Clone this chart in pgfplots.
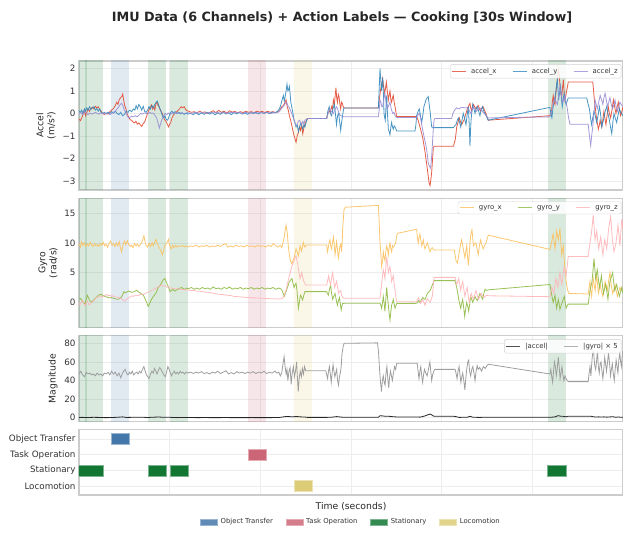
\documentclass[border=0pt]{standalone}
\usepackage{pgfplots}
\pgfplotsset{compat=1.18}
\usepackage{fontspec}
\setmainfont{DejaVu Sans}
\definecolor{cax}{HTML}{E24A33}
\definecolor{cay}{HTML}{348ABD}
\definecolor{caz}{HTML}{988ED5}
\definecolor{cgx}{HTML}{FBC15E}
\definecolor{cgy}{HTML}{8EBA42}
\definecolor{cgz}{HTML}{FFB5B8}
\definecolor{cOT}{HTML}{4477AA}
\definecolor{cTO}{HTML}{CC6677}
\definecolor{cSt}{HTML}{117733}
\definecolor{cLo}{HTML}{DDCC77}
\newcommand{\tsz}{\fontsize{8.8}{10}\selectfont}
\newcommand{\lsz}{\fontsize{9.3}{11}\selectfont}
\newcommand{\gsz}{\fontsize{6.9}{8}\selectfont}
\newcommand{\actspan}[5]{\addplot[fill=#3, fill opacity=0.16, draw=none, forget plot] coordinates {(#1,#4) (#2,#4) (#2,#5) (#1,#5)} -- cycle;}
\newcommand{\allspans}[2]{%
 \actspan{-0.55}{0.45}{cSt}{#1}{#2}
 \actspan{0.35}{1.35}{cSt}{#1}{#2}
 \actspan{1.77}{2.77}{cOT}{#1}{#2}
 \actspan{3.8}{4.8}{cSt}{#1}{#2}
 \actspan{5.03}{6.03}{cSt}{#1}{#2}
 \actspan{9.33}{10.33}{cTO}{#1}{#2}
 \actspan{11.85}{12.85}{cLo}{#1}{#2}
 \actspan{25.85}{26.85}{cSt}{#1}{#2}
}
\newcommand{\actbar}[5]{\addplot[fill=#5, draw=#5!55!white, line width=0.7bp, forget plot] coordinates {(#1,#3) (#2,#3) (#2,#4) (#1,#4)} -- cycle;}
\pgfplotsset{
 base/.style={
  scale only axis, width=544bp, anchor=south west,
  xmin=0, xmax=30, xtick={5,10,15,20,25}, xticklabels={},
  xmajorgrids, ymajorgrids,
  major grid style={draw=black!7, line width=0.7bp},
  axis line style={draw=black!20, line width=1.2bp},
  major tick length=0pt, tick style={draw=none},
  /pgf/number format/assume math mode=true,
  yticklabel style={font=\tsz, text=black!80},
  every axis y label/.style={rotate=90, anchor=center, font=\lsz, text=black!85, align=center},
  legend cell align=left,
  legend style={font=\gsz, text=black!80, draw=black!18, fill=white, fill opacity=0.85, text opacity=1, rounded corners=1.5pt, legend columns=3, anchor=north east, at={(0.997,0.975)}, inner sep=1.5pt, /tikz/every odd column/.append style={column sep=2.5bp}, /tikz/every even column/.append style={column sep=14bp}},
  legend image code/.code={\draw[#1, line width=0.9bp, draw opacity=0.8] (0bp,0bp) -- (14bp,0bp);},
 }
}
\begin{document}
\begin{tikzpicture}
\path[use as bounding box] (0bp,0bp) rectangle (623bp,533bp);
\node[font=\fontsize{12.8}{15}\selectfont\bfseries, text=black!85] at (342bp,515bp) {IMU Data (6 Channels) + Action Labels — Cooking [30s Window]};
% ---------------- Accel ----------------
\begin{axis}[base, at={(79bp,343bp)}, height=129bp, ymin=-3.4, ymax=2.33,
  ytick={-3,-2,-1,0,1,2}, yticklabels={−3,−2,−1,0,1,2},
  ylabel={Accel\\(m/s²)}, ylabel style={at={(axis description cs:-0.0607,0.5)}}]
\allspans{-4}{3}
\addplot[cax, line width=0.8bp, draw opacity=0.9] coordinates {(0.0,-0.25) (0.08,-0.32) (0.15,-0.2) (0.22,-0.05) (0.3,0.15) (0.36,-0.1) (0.43,0.05) (0.5,0.2) (0.58,0.1) (0.66,0.22) (0.74,0.28) (0.82,0.2) (0.9,0.32) (0.98,0.25) (1.06,0.3) (1.14,0.18) (1.22,0.1) (1.3,0.0) (1.4,-0.05) (1.5,0.02) (1.6,-0.03) (1.7,0.08) (1.8,0.15) (1.9,0.22) (2.0,0.35) (2.08,0.5) (2.15,0.4) (2.22,0.62) (2.3,0.7) (2.36,0.75) (2.41,0.86) (2.46,0.6) (2.52,0.35) (2.59,0.2) (2.66,-0.05) (2.74,-0.15) (2.82,-0.28) (2.9,-0.3) (2.98,-0.38) (3.06,-0.42) (3.14,-0.35) (3.22,-0.48) (3.3,-0.42) (3.38,-0.5) (3.46,-0.58) (3.54,-0.45) (3.62,-0.38) (3.7,-0.2) (3.78,0.0) (3.86,0.15) (3.94,0.3) (4.0,0.38) (4.06,0.2) (4.12,0.3) (4.18,0.15) (4.24,0.42) (4.3,0.5) (4.36,0.35) (4.42,0.3) (4.48,0.15) (4.56,0.05) (4.64,-0.1) (4.72,-0.28) (4.8,-0.35) (4.88,-0.5) (4.94,-0.6) (5.0,-0.48) (5.06,-0.4) (5.12,-0.22) (5.2,-0.08) (5.3,0.02) (5.4,0.08) (5.48,0.15) (5.56,0.22) (5.64,0.3) (5.72,0.25) (5.8,0.3) (5.88,0.18) (5.96,0.12) (6.05,0.1) (6.2,0.05) (6.35,0.08) (6.5,0.02) (6.65,0.1) (6.8,0.04) (6.95,0.07) (7.1,0.0) (7.25,0.06) (7.4,0.12) (7.55,0.03) (7.7,0.14) (7.85,0.05) (8.0,0.1) (8.15,0.02) (8.3,0.12) (8.45,0.06) (8.6,0.09) (8.75,0.03) (8.9,0.08) (9.05,0.04) (9.2,0.1) (9.35,0.05) (9.5,0.08) (9.65,0.03) (9.8,0.1) (9.95,0.06) (10.1,0.09) (10.25,0.04) (10.4,0.1) (10.55,0.05) (10.7,0.08) (10.85,0.03) (11.0,0.1) (11.08,0.15) (11.18,0.3) (11.27,0.35) (11.36,0.5) (11.42,0.6) (11.48,0.3) (11.54,0.15) (11.6,-0.1) (11.67,-0.3) (11.74,-0.55) (11.82,-0.85) (11.9,-1.1) (11.97,-1.28) (12.03,-1.0) (12.1,-0.85) (12.16,-0.6) (12.22,-0.75) (12.28,-0.5) (12.34,-0.9) (12.4,-0.65) (12.46,-0.45) (12.52,-0.35) (12.6,-0.22) (13.66,-0.22) (13.72,0.0) (13.8,0.12) (13.86,0.05) (13.93,0.3) (13.98,0.2) (14.03,0.6) (14.08,0.4) (14.13,0.8) (14.17,1.15) (14.21,0.7) (14.25,0.5) (14.3,0.85) (14.34,0.75) (14.39,0.4) (14.43,0.2) (14.48,0.5) (14.52,0.45) (14.57,0.3) (14.61,0.24) (16.5,0.24) (16.56,0.6) (16.62,1.0) (16.69,1.3) (16.74,1.55) (16.8,1.2) (16.85,0.9) (16.9,1.1) (16.95,1.4) (17.0,1.0) (17.06,0.6) (17.1,0.8) (17.15,1.0) (17.2,0.6) (17.24,0.5) (17.29,0.7) (17.33,0.8) (17.38,0.5) (17.43,0.3) (17.48,0.05) (17.52,-0.14) (18.62,-0.14) (18.7,-0.3) (18.77,-0.5) (18.84,-0.7) (18.9,-0.9) (18.96,-1.1) (19.02,-1.4) (19.08,-1.7) (19.13,-2.0) (19.2,-2.4) (19.26,-2.8) (19.31,-3.1) (19.36,-3.2) (19.41,-2.9) (19.45,-2.6) (19.5,-2.0) (19.54,-1.5) (19.6,-1.46) (20.65,-1.46) (20.7,-1.3) (20.74,-1.2) (20.79,-0.9) (20.83,-0.6) (20.9,-0.4) (20.97,-0.2) (21.03,-0.35) (21.1,-0.5) (21.16,-0.4) (21.23,-0.3) (21.3,-0.1) (21.38,0.1) (21.43,0.25) (21.47,0.3) (21.52,0.4) (21.56,0.45) (21.6,0.25) (21.65,0.1) (21.7,0.3) (21.75,0.4) (21.82,0.3) (21.89,0.2) (21.95,0.3) (22.02,0.35) (22.08,0.2) (22.15,0.1) (22.22,0.25) (22.29,0.3) (22.36,0.15) (22.44,0.0) (22.5,-0.15) (22.57,-0.3) (25.97,-0.1) (26.02,0.0) (26.06,0.1) (26.1,0.5) (26.15,0.8) (26.2,0.5) (26.25,0.4) (26.3,0.9) (26.34,1.2) (26.39,1.6) (26.43,2.0) (26.48,1.7) (26.52,1.3) (26.57,0.9) (26.62,0.7) (26.66,1.1) (26.71,1.5) (26.75,1.0) (26.8,0.6) (26.85,0.8) (26.89,1.0) (26.94,1.2) (26.98,1.4) (28.33,1.4) (28.38,1.0) (28.42,0.6) (28.48,0.2) (28.55,-0.3) (28.6,-0.5) (28.64,-0.7) (28.7,-0.5) (28.74,-0.3) (28.78,-0.45) (28.83,-0.6) (28.9,-0.2) (28.95,0.1) (29.0,-0.2) (29.06,-0.5) (29.12,-0.1) (29.19,0.3) (29.25,0.0) (29.32,-0.2) (29.4,0.2) (29.47,0.6) (29.54,0.3) (29.61,0.0) (29.68,0.3) (29.74,0.5) (29.8,0.2) (29.87,-0.1) (29.94,0.1) (30.0,0.3)};
\addlegendentry{accel\_x}
\addplot[cay, line width=0.8bp, draw opacity=0.9] coordinates {(0.0,0.1) (0.08,0.05) (0.15,0.15) (0.22,0.0) (0.3,0.2) (0.36,0.1) (0.43,0.25) (0.5,0.15) (0.58,0.3) (0.66,0.18) (0.74,0.25) (0.82,0.3) (0.9,0.15) (0.98,0.22) (1.06,0.1) (1.14,0.2) (1.22,0.05) (1.3,0.0) (1.4,0.05) (1.5,-0.02) (1.6,0.05) (1.7,0.0) (1.8,0.08) (1.9,0.02) (2.0,0.1) (2.1,0.0) (2.2,-0.05) (2.3,0.05) (2.4,-0.1) (2.5,-0.05) (2.6,0.1) (2.7,0.05) (2.8,0.15) (2.9,0.08) (3.0,0.2) (3.08,0.15) (3.15,0.35) (3.22,0.2) (3.3,0.4) (3.38,0.3) (3.46,0.15) (3.54,0.32) (3.62,0.1) (3.7,0.05) (3.78,0.15) (3.86,0.3) (3.94,0.2) (4.02,0.35) (4.1,0.25) (4.18,0.4) (4.26,0.5) (4.32,0.55) (4.38,0.4) (4.44,0.25) (4.5,0.15) (4.56,0.0) (4.62,-0.15) (4.68,-0.2) (4.74,-0.1) (4.8,-0.25) (4.88,-0.3) (4.94,-0.2) (5.0,-0.05) (5.06,0.05) (5.12,0.1) (5.2,0.02) (5.3,0.08) (5.4,0.0) (5.5,0.05) (5.6,-0.02) (5.7,0.03) (5.8,-0.04) (5.9,0.02) (6.0,-0.03) (6.15,0.0) (6.3,-0.05) (6.45,0.03) (6.6,-0.06) (6.75,0.02) (6.9,-0.04) (7.05,0.05) (7.2,-0.03) (7.35,0.04) (7.5,-0.06) (7.65,0.02) (7.8,-0.04) (7.95,0.06) (8.1,-0.02) (8.25,0.03) (8.4,-0.05) (8.55,0.04) (8.7,-0.02) (8.85,0.05) (9.0,-0.03) (9.15,0.02) (9.3,-0.04) (9.45,0.03) (9.6,0.0) (9.75,0.05) (9.9,-0.02) (10.05,0.04) (10.2,0.0) (10.35,0.05) (10.5,-0.01) (10.65,0.06) (10.8,0.02) (10.95,0.1) (11.05,0.2) (11.12,0.35) (11.2,0.6) (11.27,0.8) (11.32,0.55) (11.36,0.7) (11.42,1.0) (11.47,1.3) (11.52,1.0) (11.56,1.05) (11.6,1.2) (11.64,0.9) (11.68,0.5) (11.73,0.3) (11.8,0.0) (11.86,-0.3) (11.91,-0.4) (11.97,-0.6) (12.03,-0.5) (12.1,-0.8) (12.16,-0.6) (12.22,-0.45) (12.28,-0.55) (12.34,-0.7) (12.4,-0.5) (12.46,-0.6) (12.52,-0.4) (12.6,-0.22) (13.66,-0.22) (13.72,0.1) (13.8,0.3) (13.86,0.0) (13.93,-0.1) (14.0,0.2) (14.08,0.4) (14.14,0.0) (14.2,-0.5) (14.26,-0.1) (14.32,0.0) (14.38,-0.4) (14.43,-0.75) (14.48,-0.4) (14.52,-0.2) (14.57,0.1) (14.61,0.24) (16.51,0.24) (16.56,1.2) (16.6,2.0) (16.64,1.5) (16.68,1.0) (16.72,1.3) (16.75,1.6) (16.79,0.8) (16.82,0.0) (16.86,-0.2) (16.89,-0.3) (16.93,0.3) (16.97,0.8) (17.01,0.0) (17.06,-0.7) (17.1,-0.8) (17.15,-0.95) (17.2,-0.6) (17.24,-0.4) (17.29,-0.6) (17.33,-0.7) (17.38,-0.55) (17.43,-0.6) (17.48,-0.7) (17.52,-0.78) (18.53,-0.78) (18.58,-0.5) (18.62,-0.1) (18.7,0.1) (18.77,0.2) (18.83,-0.1) (18.9,-0.4) (18.96,-0.1) (19.02,0.3) (19.08,0.45) (19.13,0.6) (19.2,0.7) (19.26,0.75) (19.31,0.4) (19.36,0.1) (19.41,-0.3) (19.45,-0.6) (19.54,-0.63) (20.65,-0.63) (20.72,-0.55) (20.79,-0.5) (20.86,-0.3) (20.92,-0.2) (20.99,-0.4) (21.05,-0.6) (21.12,-0.3) (21.19,0.0) (21.26,-0.2) (21.34,-0.5) (21.4,-0.1) (21.47,0.3) (21.52,-0.5) (21.56,-1.45) (21.59,-0.8) (21.62,-0.3) (21.67,0.1) (21.71,0.4) (21.78,0.2) (21.84,0.0) (21.9,0.2) (21.97,0.3) (22.04,0.1) (22.11,-0.1) (22.18,0.15) (22.26,0.3) (22.32,0.1) (22.39,0.0) (22.48,-0.15) (22.57,-0.3) (25.97,0.27) (26.02,0.0) (26.08,-0.2) (26.13,0.2) (26.19,0.5) (26.24,0.7) (26.3,1.0) (26.34,1.3) (26.38,1.5) (26.42,1.0) (26.45,0.6) (26.5,0.9) (26.56,1.2) (26.6,0.7) (26.65,0.3) (26.7,0.6) (26.75,0.9) (26.8,0.6) (26.86,0.4) (26.92,0.55) (26.98,0.69) (28.0,0.69) (28.08,0.4) (28.15,0.2) (28.21,-0.2) (28.27,-0.5) (28.33,-0.2) (28.4,0.1) (28.47,-0.1) (28.55,-0.4) (28.62,-0.1) (28.7,0.3) (28.76,0.0) (28.83,-0.6) (28.89,-0.4) (28.95,-0.2) (29.02,0.1) (29.1,0.3) (29.17,0.0) (29.25,-0.3) (29.31,-0.6) (29.38,-0.9) (29.44,-0.4) (29.5,0.0) (29.57,-0.2) (29.65,-0.4) (29.72,-0.1) (29.8,0.2) (29.9,0.0) (30.0,-0.1)};
\addlegendentry{accel\_y}
\addplot[caz, line width=0.8bp, draw opacity=0.9] coordinates {(0.0,0.0) (0.1,0.05) (0.2,-0.05) (0.3,0.1) (0.4,0.0) (0.5,-0.05) (0.6,0.02) (0.7,-0.03) (0.8,0.0) (0.9,0.05) (1.0,0.0) (1.1,-0.03) (1.2,0.02) (1.3,0.0) (1.4,-0.02) (1.5,0.02) (1.6,0.0) (1.7,-0.05) (1.8,0.0) (1.9,0.05) (2.0,0.1) (2.1,0.2) (2.2,0.3) (2.28,0.4) (2.35,0.45) (2.42,0.35) (2.5,0.15) (2.58,0.05) (2.66,-0.1) (2.74,-0.2) (2.82,-0.18) (2.9,-0.12) (3.0,-0.15) (3.1,-0.1) (3.2,-0.15) (3.3,-0.08) (3.4,0.0) (3.5,-0.02) (3.6,0.02) (3.7,0.0) (3.8,-0.02) (3.9,0.05) (4.0,0.0) (4.1,0.02) (4.2,-0.1) (4.28,-0.2) (4.35,-0.4) (4.43,-0.65) (4.5,-0.45) (4.56,-0.3) (4.64,-0.15) (4.74,0.0) (4.84,-0.05) (4.94,0.02) (5.04,-0.04) (5.14,0.03) (5.24,-0.02) (5.34,0.04) (5.44,0.0) (5.6,0.03) (5.8,-0.01) (6.0,0.04) (6.2,0.0) (6.4,0.05) (6.6,0.01) (6.8,0.04) (7.0,0.0) (7.2,0.05) (7.4,0.02) (7.6,0.06) (7.8,0.01) (8.0,0.04) (8.2,0.0) (8.4,0.05) (8.6,0.02) (8.8,0.04) (9.0,0.0) (9.2,0.05) (9.4,0.01) (9.6,0.04) (9.8,0.0) (10.0,0.05) (10.2,0.02) (10.4,0.04) (10.6,0.0) (10.8,0.05) (11.0,0.05) (11.1,0.15) (11.2,0.25) (11.3,0.35) (11.38,0.45) (11.45,0.5) (11.52,0.35) (11.6,0.25) (11.68,0.1) (11.75,-0.05) (11.82,-0.2) (11.9,-0.4) (11.97,-0.55) (12.03,-0.5) (12.1,-0.35) (12.16,-0.3) (12.22,-0.4) (12.28,-0.5) (12.34,-0.35) (12.4,-0.45) (12.46,-0.3) (12.55,-0.25) (12.6,-0.22) (13.66,-0.22) (13.75,0.05) (13.84,0.2) (13.9,0.1) (13.96,0.05) (14.03,0.0) (14.1,0.15) (14.16,0.25) (14.2,0.3) (14.26,0.2) (14.32,0.05) (14.38,-0.05) (14.43,-0.1) (14.5,-0.12) (14.58,-0.15) (16.51,-0.15) (16.56,0.2) (16.6,0.6) (16.65,0.5) (16.7,0.3) (16.75,0.3) (16.8,0.6) (16.87,0.9) (16.93,0.5) (17.0,0.2) (17.07,0.35) (17.15,0.5) (17.22,0.2) (17.3,0.0) (17.37,0.05) (17.43,-0.1) (17.52,-0.18) (18.62,-0.18) (18.7,-0.05) (18.77,0.0) (18.84,-0.2) (18.9,-0.5) (18.96,-0.75) (19.02,-1.0) (19.1,-1.3) (19.17,-1.6) (19.22,-1.9) (19.26,-2.2) (19.33,-2.35) (19.39,-2.43) (19.44,-2.0) (19.48,-1.5) (19.53,-0.8) (19.58,-0.3) (19.63,-0.22) (20.55,-0.22) (20.62,0.0) (20.68,0.1) (20.76,0.2) (20.83,0.25) (20.9,0.22) (20.97,0.2) (21.04,0.26) (21.1,0.25) (21.2,0.27) (21.3,0.24) (21.4,0.26) (21.47,0.2) (21.54,0.1) (21.6,0.0) (21.68,0.15) (21.75,0.3) (21.84,0.2) (21.93,0.1) (22.02,0.2) (22.11,0.25) (22.2,0.15) (22.29,0.05) (22.4,-0.05) (22.57,-0.2) (25.97,-0.15) (26.03,0.0) (26.1,0.2) (26.17,0.5) (26.25,0.7) (26.31,0.5) (26.38,0.4) (26.45,0.8) (26.52,1.2) (26.58,0.9) (26.67,0.5) (26.73,0.6) (26.8,0.8) (26.86,0.5) (26.93,0.2) (27.0,-0.2) (27.08,-0.48) (28.08,-0.48) (28.15,-1.0) (28.22,-1.43) (28.27,-1.0) (28.33,-0.6) (28.4,0.0) (28.46,0.6) (28.52,0.4) (28.58,0.2) (28.66,0.5) (28.74,0.8) (28.82,0.6) (28.89,0.4) (28.95,0.7) (29.01,0.9) (29.08,0.6) (29.14,0.3) (29.21,0.5) (29.28,0.7) (29.35,0.4) (29.43,0.2) (29.5,0.4) (29.56,0.6) (29.62,0.3) (29.69,0.1) (29.76,0.3) (29.83,0.5) (29.9,0.4) (30.0,0.3)};
\addlegendentry{accel\_z}
\end{axis}
% ---------------- Gyro ----------------
\begin{axis}[base, at={(79bp,205.7bp)}, height=129bp, ymin=-4.2, ymax=17.5,
  ytick={0,5,10,15},
  ylabel={Gyro\\(rad/s)}, ylabel style={at={(axis description cs:-0.057,0.5)}}]
\allspans{-5}{18}
\addplot[cgx, line width=0.8bp, draw opacity=0.9] coordinates {(0.0,9.9) (0.08,9.3) (0.15,10.2) (0.22,9.6) (0.3,10.0) (0.38,9.4) (0.46,9.8) (0.54,9.5) (0.62,10.1) (0.7,9.6) (0.78,9.4) (0.86,9.9) (0.94,9.5) (1.02,9.7) (1.1,9.4) (1.18,9.9) (1.26,9.6) (1.34,10.1) (1.42,9.5) (1.5,9.8) (1.58,9.3) (1.66,9.9) (1.74,10.3) (1.82,9.6) (1.9,9.9) (1.98,9.4) (2.06,10.0) (2.14,9.5) (2.22,10.2) (2.28,9.2) (2.35,8.5) (2.42,9.6) (2.5,10.3) (2.58,9.7) (2.66,10.4) (2.74,9.8) (2.82,9.4) (2.9,9.6) (2.98,9.2) (3.06,9.9) (3.14,9.5) (3.22,9.8) (3.3,9.4) (3.38,9.7) (3.46,10.0) (3.52,10.6) (3.58,11.2) (3.64,10.2) (3.7,9.6) (3.78,9.3) (3.86,9.9) (3.94,9.4) (4.02,10.0) (4.1,9.5) (4.18,10.2) (4.25,10.6) (4.3,10.0) (4.38,9.4) (4.46,9.0) (4.54,8.5) (4.6,8.0) (4.66,8.6) (4.72,9.5) (4.8,9.8) (4.88,10.2) (4.93,10.6) (4.98,9.8) (5.04,9.2) (5.1,9.0) (5.16,9.6) (5.24,9.2) (5.32,9.6) (5.4,9.3) (5.5,9.5) (5.6,9.4) (5.7,9.6) (5.8,9.3) (5.9,9.5) (6.0,9.3) (6.15,9.5) (6.3,9.4) (6.45,9.6) (6.6,9.3) (6.75,9.5) (6.9,9.4) (7.05,9.6) (7.2,9.3) (7.35,9.5) (7.5,9.4) (7.65,9.6) (7.8,9.4) (7.95,9.7) (8.1,9.9) (8.2,9.3) (8.35,9.5) (8.5,9.3) (8.65,9.6) (8.8,9.4) (8.95,9.5) (9.1,9.3) (9.25,9.6) (9.4,9.4) (9.55,9.5) (9.7,9.3) (9.85,9.6) (10.0,9.4) (10.15,9.5) (10.3,9.3) (10.45,9.6) (10.6,9.4) (10.72,9.9) (10.85,9.5) (10.98,9.3) (11.1,9.6) (11.18,9.2) (11.25,10.0) (11.32,11.0) (11.38,12.3) (11.42,13.0) (11.46,12.2) (11.49,11.5) (11.54,9.5) (11.6,8.0) (11.66,7.0) (11.73,6.5) (11.8,7.0) (11.86,7.5) (11.92,8.3) (11.97,9.0) (12.03,8.5) (12.1,7.8) (12.15,8.8) (12.19,9.5) (12.24,9.0) (12.28,8.6) (12.33,9.5) (12.37,10.1) (12.42,9.5) (12.46,9.3) (12.52,9.66) (13.66,9.66) (13.7,8.5) (13.75,9.2) (13.8,10.2) (13.84,10.5) (13.88,9.5) (13.93,9.0) (13.98,10.0) (14.03,11.0) (14.08,9.5) (14.12,8.0) (14.16,9.0) (14.2,10.2) (14.25,9.0) (14.3,7.5) (14.35,8.5) (14.39,9.5) (14.44,9.8) (14.48,8.5) (14.52,10.5) (14.54,12.5) (14.58,14.0) (14.61,15.5) (14.65,15.8) (14.69,16.0) (16.51,16.3) (16.56,13.0) (16.6,10.0) (16.65,8.0) (16.69,6.0) (16.74,7.0) (16.78,8.5) (16.83,7.5) (16.87,7.0) (16.92,8.5) (16.97,9.5) (17.01,9.0) (17.06,8.0) (17.1,9.2) (17.15,10.0) (17.2,9.0) (17.24,8.5) (17.29,9.5) (17.33,9.3) (17.4,9.6) (17.46,10.0) (17.5,10.8) (17.55,11.6) (18.62,12.3) (18.66,11.0) (18.71,10.0) (18.76,11.0) (18.8,11.5) (18.85,10.5) (18.9,9.5) (18.95,10.0) (18.99,10.5) (19.03,9.6) (19.08,9.0) (19.14,9.5) (19.21,10.0) (19.28,9.3) (19.36,8.5) (19.42,9.0) (19.48,9.2) (19.54,8.9) (19.6,8.8) (20.7,8.8) (20.75,7.8) (20.79,7.0) (20.86,6.6) (20.92,7.5) (20.97,8.5) (21.03,9.5) (21.1,10.5) (21.15,9.8) (21.19,9.0) (21.24,8.2) (21.28,7.5) (21.33,8.5) (21.38,9.5) (21.42,8.0) (21.47,6.2) (21.52,8.0) (21.56,10.0) (21.6,11.2) (21.64,11.8) (21.67,12.2) (21.71,11.0) (21.75,9.5) (21.82,9.8) (21.89,10.0) (21.95,9.0) (22.02,8.0) (22.08,9.5) (22.15,10.5) (22.22,9.6) (22.29,9.0) (22.36,9.5) (22.44,10.0) (22.5,10.6) (22.57,11.3) (25.97,8.9) (26.02,9.5) (26.06,10.0) (26.1,10.8) (26.15,11.5) (26.2,10.2) (26.25,9.0) (26.3,10.5) (26.34,12.0) (26.39,11.2) (26.43,10.5) (26.48,11.5) (26.52,12.5) (26.57,10.2) (26.62,8.0) (26.66,8.8) (26.71,9.5) (26.75,7.5) (26.8,5.5) (26.85,4.0) (26.89,3.0) (26.95,2.0) (27.02,1.5) (28.08,1.4) (28.13,2.5) (28.18,3.5) (28.22,2.0) (28.27,1.0) (28.31,2.5) (28.36,4.0) (28.41,3.0) (28.46,2.0) (28.5,3.2) (28.55,4.5) (28.6,3.0) (28.64,1.5) (28.69,2.2) (28.74,3.0) (28.8,2.0) (28.89,1.0) (28.95,2.2) (29.01,3.5) (29.07,2.8) (29.14,2.0) (29.2,3.5) (29.28,5.0) (29.35,3.0) (29.43,1.5) (29.5,2.2) (29.56,3.0) (29.62,2.0) (29.69,1.0) (29.76,1.8) (29.83,2.5) (29.9,2.0) (30.0,1.8)};
\addlegendentry{gyro\_x}
\addplot[cgy, line width=0.8bp, draw opacity=0.9] coordinates {(0.0,0.7) (0.05,0.7) (0.12,0.5) (0.2,0.2) (0.27,-0.1) (0.33,-0.3) (0.4,0.5) (0.46,1.2) (0.52,0.8) (0.57,0.4) (0.63,0.2) (0.7,0.0) (0.78,0.3) (0.88,0.6) (0.97,0.9) (1.07,1.2) (1.16,1.3) (1.25,1.3) (1.34,1.1) (1.43,1.0) (1.52,0.9) (1.62,0.8) (1.72,0.75) (1.8,0.8) (1.89,0.7) (1.98,0.6) (2.08,0.55) (2.17,0.5) (2.26,0.7) (2.35,0.9) (2.42,1.4) (2.48,1.8) (2.55,1.6) (2.63,1.7) (2.72,1.9) (2.81,1.8) (2.9,1.7) (3.0,1.75) (3.09,1.9) (3.18,2.0) (3.27,1.8) (3.36,1.6) (3.45,1.4) (3.55,1.2) (3.64,0.6) (3.73,0.0) (3.78,-0.4) (3.82,-0.7) (3.88,-0.3) (3.95,0.2) (4.02,0.6) (4.1,1.0) (4.18,1.3) (4.25,1.6) (4.31,2.0) (4.37,2.5) (4.44,2.7) (4.5,3.0) (4.57,3.4) (4.65,3.8) (4.7,3.9) (4.74,4.0) (4.79,3.6) (4.83,3.3) (4.88,2.9) (4.93,2.6) (4.98,2.2) (5.02,1.8) (5.1,2.0) (5.17,2.2) (5.23,2.0) (5.29,1.9) (5.38,2.1) (5.48,2.2) (5.57,2.4) (5.66,2.5) (5.75,2.3) (5.85,2.2) (5.95,2.4) (6.05,2.3) (6.2,2.5) (6.35,2.2) (6.5,2.4) (6.65,2.2) (6.8,2.5) (6.95,2.3) (7.1,2.4) (7.25,2.2) (7.4,2.6) (7.55,2.3) (7.7,2.4) (7.85,2.2) (8.0,2.5) (8.15,2.3) (8.3,2.6) (8.45,2.2) (8.6,2.4) (8.75,2.3) (8.9,2.5) (9.05,2.2) (9.2,2.4) (9.35,2.3) (9.5,2.5) (9.65,2.2) (9.8,2.4) (9.95,2.3) (10.1,2.5) (10.25,2.2) (10.4,2.4) (10.55,2.3) (10.7,2.5) (10.85,2.2) (11.0,2.4) (11.12,2.3) (11.2,2.0) (11.27,1.4) (11.32,1.0) (11.38,1.5) (11.44,2.0) (11.49,2.5) (11.55,3.0) (11.6,3.5) (11.64,3.6) (11.7,3.9) (11.75,4.0) (11.8,3.2) (11.86,2.5) (11.92,3.0) (11.97,3.2) (12.02,2.0) (12.06,0.5) (12.1,-1.0) (12.15,0.0) (12.19,0.8) (12.22,1.2) (12.28,0.8) (12.33,0.4) (12.4,1.2) (12.46,1.8) (13.66,1.8) (13.7,1.5) (13.75,1.2) (13.8,2.0) (13.85,2.6) (13.88,2.8) (13.93,1.5) (13.99,0.5) (14.05,1.0) (14.12,1.5) (14.18,0.5) (14.25,-0.5) (14.3,0.2) (14.36,0.8) (14.41,-0.2) (14.46,-1.3) (14.5,-0.6) (14.54,-0.2) (14.63,-0.17) (16.6,-0.17) (16.65,-0.5) (16.69,-1.0) (16.74,0.0) (16.78,1.0) (16.83,-0.2) (16.87,-1.5) (16.92,0.5) (16.97,2.5) (17.01,1.0) (17.06,-0.5) (17.1,-1.8) (17.15,-3.0) (17.2,-1.5) (17.24,-0.5) (17.29,0.0) (17.33,0.5) (17.38,-0.3) (17.43,-1.0) (17.48,-0.5) (17.52,-0.2) (18.62,-0.17) (18.67,0.0) (18.71,0.3) (18.76,0.1) (18.8,0.0) (18.88,0.4) (18.96,0.8) (19.02,0.6) (19.08,0.5) (19.15,1.0) (19.21,1.5) (19.28,1.7) (19.36,2.0) (19.42,2.4) (19.47,2.8) (19.52,3.2) (19.58,3.65) (20.74,3.65) (20.79,3.0) (20.83,2.5) (20.89,1.5) (20.94,0.5) (21.0,-0.3) (21.05,-1.0) (21.1,-0.2) (21.16,0.5) (21.22,-1.0) (21.27,-2.4) (21.32,-1.2) (21.38,0.0) (21.44,-0.7) (21.49,-1.5) (21.55,-0.2) (21.6,1.0) (21.66,0.5) (21.71,0.0) (21.78,0.5) (21.84,1.0) (21.9,0.6) (21.97,0.3) (22.04,0.9) (22.11,1.5) (22.18,1.0) (22.26,0.5) (22.32,1.4) (22.39,2.2) (22.48,2.0) (22.57,2.1) (25.97,3.0) (26.02,2.2) (26.06,1.5) (26.1,0.7) (26.15,0.0) (26.2,0.6) (26.25,1.2) (26.3,0.0) (26.34,-1.0) (26.39,-0.2) (26.43,0.5) (26.48,-0.3) (26.52,-1.2) (26.58,-0.6) (26.65,0.0) (26.7,0.5) (26.76,1.0) (26.81,0.0) (26.86,-1.0) (26.92,-0.6) (26.98,-0.3) (28.08,-0.3) (28.13,0.8) (28.18,2.0) (28.24,2.8) (28.29,3.5) (28.35,5.5) (28.4,7.4) (28.45,5.5) (28.49,4.0) (28.54,4.8) (28.58,5.5) (28.64,4.0) (28.7,2.5) (28.76,3.5) (28.81,4.5) (28.86,3.0) (28.92,1.5) (28.98,2.2) (29.05,3.0) (29.11,1.8) (29.17,0.5) (29.22,2.0) (29.28,3.5) (29.35,4.2) (29.43,5.0) (29.48,3.5) (29.54,2.0) (29.6,2.5) (29.65,3.0) (29.72,2.0) (29.8,1.0) (29.87,1.8) (29.93,2.5) (30.0,1.5)};
\addlegendentry{gyro\_y}
\addplot[cgz, line width=0.8bp, draw opacity=0.9] coordinates {(0.0,-0.2) (0.06,-0.4) (0.13,0.1) (0.2,0.3) (0.26,-0.2) (0.33,-0.6) (0.4,-0.1) (0.46,0.2) (0.53,-0.3) (0.6,-0.4) (0.68,-0.1) (0.75,0.1) (0.84,0.4) (0.92,0.7) (0.99,0.8) (1.08,1.0) (1.16,1.1) (1.25,0.9) (1.34,1.0) (1.43,1.2) (1.53,1.3) (1.62,1.1) (1.71,1.2) (1.8,1.0) (1.89,1.1) (1.98,0.9) (2.08,0.9) (2.17,0.8) (2.26,0.7) (2.35,0.6) (2.44,0.4) (2.54,0.2) (2.63,0.5) (2.72,0.7) (2.81,0.9) (2.9,1.1) (3.0,1.0) (3.09,1.2) (3.18,1.2) (3.27,1.1) (3.36,1.3) (3.46,1.4) (3.55,1.3) (3.64,1.5) (3.73,1.6) (3.82,1.7) (3.91,1.8) (4.0,2.0) (4.1,2.1) (4.19,2.3) (4.28,2.4) (4.37,2.6) (4.47,2.8) (4.56,2.9) (4.65,2.7) (4.74,2.8) (4.83,2.6) (4.93,2.5) (5.02,2.4) (5.11,2.4) (5.25,2.3) (5.4,2.3) (5.57,2.2) (5.75,2.15) (5.95,2.1) (6.15,2.0) (6.35,2.0) (6.55,1.85) (6.75,1.85) (6.95,1.7) (7.15,1.7) (7.35,1.55) (7.55,1.45) (7.75,1.35) (7.95,1.3) (8.15,1.2) (8.35,1.15) (8.55,1.0) (8.75,0.95) (8.95,0.9) (9.15,0.85) (9.35,0.8) (9.55,0.75) (9.75,0.75) (9.95,0.7) (10.15,0.7) (10.35,0.65) (10.55,0.6) (10.75,0.6) (10.95,0.55) (11.1,0.6) (11.18,0.6) (11.27,0.9) (11.36,1.5) (11.43,2.2) (11.49,3.0) (11.55,3.8) (11.6,4.5) (11.67,5.2) (11.73,6.0) (11.8,6.5) (11.86,7.0) (11.92,7.5) (11.97,7.8) (12.02,7.0) (12.06,6.5) (12.12,5.2) (12.19,4.0) (12.24,4.5) (12.28,5.0) (12.34,4.2) (12.4,3.5) (12.45,3.2) (12.5,2.9) (13.66,2.9) (13.72,3.8) (13.77,4.5) (13.82,3.5) (13.88,3.0) (13.93,4.2) (13.99,5.0) (14.05,3.5) (14.1,2.5) (14.15,3.0) (14.2,3.5) (14.26,2.5) (14.32,1.5) (14.37,1.8) (14.43,2.0) (14.48,1.2) (14.54,0.8) (14.63,0.67) (16.6,0.67) (16.65,2.0) (16.69,3.0) (16.74,4.5) (16.78,5.5) (16.83,4.8) (16.87,4.0) (16.92,6.0) (16.97,7.7) (17.01,6.5) (17.06,5.0) (17.1,5.5) (17.15,6.0) (17.2,4.8) (17.24,3.5) (17.29,4.0) (17.33,4.5) (17.38,3.2) (17.43,2.0) (17.48,0.8) (17.52,0.1) (18.62,0.1) (18.67,0.5) (18.73,0.8) (18.78,0.3) (18.84,-0.2) (18.9,0.2) (18.96,0.5) (19.02,0.0) (19.08,-0.5) (19.14,0.1) (19.21,0.6) (19.28,0.3) (19.36,0.0) (19.42,0.5) (19.48,1.0) (19.53,2.5) (19.58,4.2) (20.74,4.2) (20.79,3.5) (20.83,3.0) (20.89,3.5) (20.94,4.0) (21.0,3.0) (21.05,2.0) (21.1,2.8) (21.16,3.5) (21.22,2.2) (21.28,1.0) (21.34,1.8) (21.41,2.5) (21.46,1.2) (21.52,0.0) (21.58,0.8) (21.63,1.5) (21.69,1.0) (21.75,0.5) (21.82,1.2) (21.89,2.0) (21.96,1.2) (22.04,0.5) (22.11,1.0) (22.18,1.5) (22.26,1.1) (22.33,0.8) (22.4,1.0) (22.48,1.2) (22.57,1.1) (25.97,0.95) (26.02,1.7) (26.08,2.5) (26.13,2.0) (26.19,1.5) (26.24,2.8) (26.3,4.0) (26.35,3.2) (26.41,2.5) (26.46,3.8) (26.52,5.0) (26.57,4.0) (26.63,3.0) (26.69,4.5) (26.75,6.0) (26.8,5.2) (26.86,4.5) (26.92,6.0) (26.98,7.7) (28.08,7.7) (28.13,9.0) (28.18,10.0) (28.24,11.2) (28.29,12.5) (28.33,13.8) (28.36,14.7) (28.41,12.5) (28.46,10.5) (28.5,11.2) (28.55,12.0) (28.6,10.5) (28.66,9.0) (28.71,10.0) (28.77,11.0) (28.83,9.5) (28.89,8.0) (28.94,9.2) (28.99,10.5) (29.05,9.8) (29.1,9.0) (29.16,10.8) (29.21,12.5) (29.27,13.5) (29.32,14.5) (29.36,12.8) (29.4,11.0) (29.45,9.8) (29.5,8.5) (29.56,9.2) (29.61,10.0) (29.67,11.5) (29.72,13.0) (29.78,11.2) (29.83,9.5) (29.88,11.8) (29.93,14.0) (29.97,13.0) (30.0,12.0)};
\addlegendentry{gyro\_z}
\end{axis}
% ---------------- Magnitude ----------------
\begin{axis}[base, at={(79bp,111.3bp)}, height=86bp, ymin=-4.3, ymax=88.2,
  ytick={0,20,40,60,80},
  ylabel={Magnitude}, ylabel style={at={(axis description cs:-0.0478,0.5)}},
  legend style={legend columns=2, at={(0.997,0.96)}}]
\allspans{-10}{95}
\addplot[black!85, line width=0.8bp] coordinates {(0.0,0.3) (0.2,0.35) (0.4,0.2) (0.6,0.3) (0.8,0.4) (1.0,0.35) (1.2,0.2) (1.4,0.1) (1.6,0.1) (1.8,0.2) (2.0,0.35) (2.2,0.6) (2.4,0.9) (2.6,0.3) (2.8,0.35) (3.0,0.45) (3.2,0.55) (3.4,0.5) (3.6,0.4) (3.8,0.2) (4.0,0.45) (4.2,0.6) (4.4,0.85) (4.6,0.4) (4.8,0.45) (5.0,0.5) (5.2,0.15) (5.4,0.1) (5.6,0.25) (5.8,0.3) (6.0,0.15) (6.5,0.1) (7.0,0.12) (7.5,0.08) (8.0,0.12) (8.5,0.1) (9.0,0.08) (9.5,0.11) (10.0,0.1) (10.5,0.09) (11.0,0.15) (11.2,0.7) (11.45,1.4) (11.6,1.2) (11.8,0.9) (11.97,1.35) (12.1,1.1) (12.3,0.8) (12.45,0.7) (12.6,0.35) (13.66,0.35) (13.9,0.5) (14.1,0.9) (14.2,1.2) (14.35,0.9) (14.5,0.6) (14.6,0.4) (16.5,0.4) (16.6,2.1) (16.75,1.9) (16.9,1.5) (17.0,1.6) (17.15,1.4) (17.3,1.1) (17.52,0.8) (18.62,0.8) (18.8,0.6) (19.0,1.5) (19.13,2.3) (19.26,3.3) (19.36,4.0) (19.45,3.1) (19.54,1.8) (19.6,1.6) (20.65,1.6) (20.8,1.1) (20.97,0.3) (21.2,0.5) (21.4,0.4) (21.56,1.5) (21.7,0.6) (21.9,0.4) (22.1,0.3) (22.3,0.45) (22.57,0.5) (25.97,0.4) (26.1,0.6) (26.25,0.9) (26.38,1.9) (26.45,2.2) (26.55,1.6) (26.7,1.5) (26.85,1.0) (26.98,1.6) (28.08,1.6) (28.22,1.6) (28.35,1.1) (28.5,0.7) (28.65,0.9) (28.8,0.7) (28.95,0.9) (29.1,0.6) (29.3,0.9) (29.45,1.0) (29.6,0.5) (29.75,0.8) (29.9,0.4) (30.0,0.5)};
\addlegendentry{|accel|}
\addplot[black!38, line width=0.8bp] coordinates {(0.0,47) (0.1,50) (0.2,46) (0.3,44) (0.4,49) (0.5,47) (0.6,48) (0.7,46) (0.8,47) (0.9,45) (1.0,48) (1.1,46) (1.2,47) (1.3,45) (1.4,48) (1.5,47) (1.6,49) (1.7,46) (1.8,50) (1.9,47) (2.0,49) (2.1,45) (2.2,48) (2.3,43) (2.38,47) (2.46,50) (2.55,52) (2.62,48) (2.7,46) (2.78,49) (2.86,47) (2.94,50) (3.02,46) (3.1,48) (3.18,49) (3.26,47) (3.34,50) (3.42,48) (3.5,52) (3.58,55) (3.65,50) (3.72,46) (3.8,44) (3.86,42) (3.94,47) (4.02,50) (4.1,48) (4.16,53) (4.24,50) (4.3,47) (4.38,51) (4.45,54) (4.52,52) (4.6,49) (4.68,46) (4.76,44) (4.84,50) (4.9,55) (4.97,52) (5.04,48) (5.1,45) (5.18,48) (5.26,50) (5.34,47) (5.42,49) (5.5,47) (5.58,50) (5.66,48) (5.74,49) (5.82,47) (5.9,49) (6.0,48) (6.15,49) (6.3,47.5) (6.45,49) (6.6,48) (6.75,49.5) (6.9,47.5) (7.05,48.5) (7.2,47) (7.35,49) (7.5,48) (7.65,50) (7.8,47.5) (7.95,49) (8.1,50.5) (8.25,47) (8.4,48.5) (8.55,47) (8.7,49.5) (8.85,48) (9.0,49) (9.15,47.5) (9.3,49) (9.45,48) (9.6,49.5) (9.75,47.5) (9.9,49) (10.05,48) (10.2,50) (10.35,47.5) (10.5,49) (10.65,48) (10.8,50) (10.92,48) (11.02,49) (11.1,45) (11.18,48) (11.25,58) (11.31,65.7) (11.36,56) (11.42,47) (11.47,52) (11.52,40) (11.58,50) (11.64,54) (11.7,36) (11.76,48) (11.82,55) (11.88,44) (11.94,50) (12.0,60) (12.04,45) (12.09,28) (12.14,42) (12.2,50) (12.26,44) (12.32,53) (12.38,47) (12.44,55) (12.5,50.6) (13.61,50.6) (13.66,46) (13.71,42) (13.76,50) (13.81,55) (13.86,47) (13.91,38) (13.96,48) (14.01,57) (14.06,50) (14.11,44) (14.16,48) (14.21,52) (14.26,40) (14.31,35) (14.36,44) (14.41,48) (14.46,55) (14.5,68) (14.56,76) (14.62,80) (16.46,80.5) (16.52,70) (16.58,50) (16.63,38) (16.68,28) (16.73,40) (16.78,45) (16.83,38) (16.88,35) (16.93,48) (16.98,55) (17.03,42) (17.08,32) (17.13,44) (17.18,50) (17.23,45) (17.28,40) (17.34,48) (17.4,55) (17.46,52) (17.52,58.5) (18.65,58.5) (18.7,50) (18.75,42) (18.8,50) (18.85,55) (18.9,45) (18.95,38) (19.0,46) (19.05,52) (19.12,48) (19.2,45) (19.27,52) (19.35,60) (19.4,50) (19.45,40) (19.5,46) (19.56,50) (19.62,52) (20.74,52) (20.79,48) (20.85,42) (20.9,50) (20.96,55) (21.01,46) (21.06,38) (21.11,44) (21.16,48) (21.22,40) (21.28,30) (21.33,42) (21.38,52) (21.44,60) (21.49,62) (21.54,50) (21.6,45) (21.66,52) (21.72,55) (21.78,48) (21.84,40) (21.9,50) (21.96,56) (22.02,52) (22.1,54) (22.2,50) (22.3,55) (22.4,53) (22.5,56) (22.57,57.5) (25.97,47) (26.02,52) (26.07,44) (26.12,38) (26.17,50) (26.22,60) (26.27,55) (26.32,45) (26.37,52) (26.43,65) (26.48,55) (26.53,42) (26.58,48) (26.63,55) (26.68,47) (26.74,40) (26.8,45) (26.86,42) (26.92,40) (26.98,38.8) (28.08,38.8) (28.13,48) (28.18,55) (28.23,45) (28.29,62) (28.34,72) (28.39,68) (28.44,56) (28.49,52) (28.54,60) (28.59,72) (28.64,55) (28.69,48) (28.74,58) (28.79,60) (28.84,50) (28.89,42) (28.94,52) (28.99,65) (29.04,58) (29.09,50) (29.15,60) (29.2,70) (29.26,58) (29.31,45) (29.36,52) (29.41,58) (29.46,48) (29.52,40) (29.57,52) (29.62,62) (29.67,55) (29.72,48) (29.77,62) (29.82,70) (29.87,60) (29.92,55) (29.96,68) (30.0,72)};
\addlegendentry{|gyro| × 5}
\end{axis}
% ---------------- Labels ----------------
\begin{axis}[base, at={(79bp,38bp)}, height=65.7bp, ymin=-0.57, ymax=3.62,
  ytick={0,1,2,3}, yticklabels={Locomotion,Stationary,Task Operation,Object Transfer},
  xlabel={Time (seconds)}, xlabel style={at={(axis description cs:0.5,-0.183)}, anchor=center, font=\lsz, text=black!85},
  legend style={draw=none, fill=none, sharp corners, legend columns=4, at={(0.5,-0.41)}, anchor=center, /tikz/every odd column/.append style={column sep=1bp}, /tikz/every even column/.append style={column sep=11bp}}]
\actbar{1.77}{2.77}{2.65}{3.35}{cOT}
\actbar{9.33}{10.33}{1.65}{2.35}{cTO}
\actbar{-0.55}{1.35}{0.65}{1.35}{cSt}
\actbar{3.8}{4.8}{0.65}{1.35}{cSt}
\actbar{5.03}{6.03}{0.65}{1.35}{cSt}
\actbar{25.85}{26.85}{0.65}{1.35}{cSt}
\actbar{11.85}{12.85}{-0.35}{0.35}{cLo}
\addlegendimage{area legend, sharp corners, fill=cOT, draw=cOT!55!white}
\addlegendentry{Object Transfer}
\addlegendimage{area legend, sharp corners, fill=cTO, draw=cTO!55!white}
\addlegendentry{Task Operation}
\addlegendimage{area legend, sharp corners, fill=cSt, draw=cSt!55!white}
\addlegendentry{Stationary}
\addlegendimage{area legend, sharp corners, fill=cLo, draw=cLo!55!white}
\addlegendentry{Locomotion}
\end{axis}
\end{tikzpicture}
\end{document}
